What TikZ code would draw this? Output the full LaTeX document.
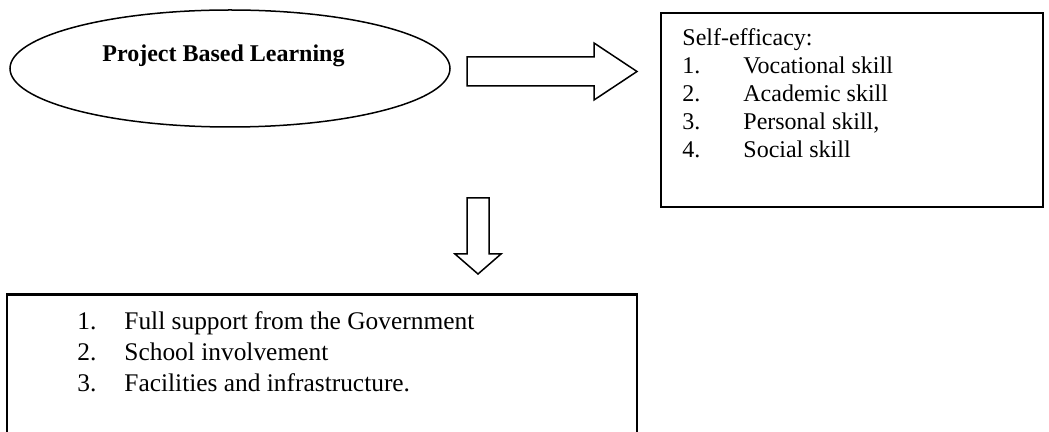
\documentclass[tikz,border=0pt]{standalone}
\usepackage{fontspec}
\setmainfont{Liberation Serif}
\usetikzlibrary{shapes.geometric}
\begin{document}
\begin{tikzpicture}[x=0.5pt,y=-0.5pt,
  boxline/.style={draw=black, line width=1.3pt},
  thinline/.style={draw=black, line width=0.75pt, line join=miter},
  rtxt/.style={anchor=base west, inner sep=0pt, font=\fontsize{12pt}{14pt}\selectfont},
  btxt/.style={anchor=base west, inner sep=0pt, font=\fontsize{12.7pt}{15pt}\selectfont},
]
\useasboundingbox (0,0) rectangle (1049,432);
\clip (0,0) rectangle (1049,432);
% ellipse
\node[ellipse, thinline, minimum width=220pt, minimum height=58.5pt, inner sep=0pt] (pbl) at (230,68.5) {};
\node[anchor=base west, inner sep=0pt, font=\bfseries\fontsize{12pt}{14pt}\selectfont] (pbltext) at (102,62) {Project Based Learning};
% right block arrow
\draw[thinline] (467,57) coordinate (ra) -- (594,57) -- (594,43) -- (637,71.5) coordinate (ratip) -- (594,100) -- (594,86) -- (467,86) -- cycle;
% down block arrow
\draw[thinline] (467,198) coordinate (da) -- (489,198) -- (489,254) -- (501,254) -- (478,274) coordinate (datip) -- (455,254) -- (467,254) -- cycle;
% right box
\draw[boxline] (661,13) coordinate (effnw) rectangle (1043,207) coordinate (effse);
\node[rtxt] (eff0) at (682,46) {Self-efficacy:};
\node[rtxt] (eff1n) at (682,74) {1.};
\node[rtxt] (eff1) at (743,74) {Vocational skill};
\node[rtxt] (eff2n) at (682,102) {2.};
\node[rtxt] (eff2) at (743,102) {Academic skill};
\node[rtxt] (eff3n) at (682,130) {3.};
\node[rtxt] (eff3) at (743,130) {Personal skill,};
\node[rtxt] (eff4n) at (682,158) {4.};
\node[rtxt] (eff4) at (743,158) {Social skill};
% bottom box
\draw[boxline] (7,470) -- (7,294.5) coordinate (supnw) -- (637,294.5) -- (637,470);
\node[btxt] (sup1n) at (77,330) {1.};
\node[btxt] (sup1) at (124,330) {Full support from the Government};
\node[btxt] (sup2n) at (77,361) {2.};
\node[btxt] (sup2) at (124,361) {School involvement};
\node[btxt] (sup3n) at (77,392) {3.};
\node[btxt] (sup3) at (124,392) {Facilities and infrastructure.};
\end{tikzpicture}
\end{document}
